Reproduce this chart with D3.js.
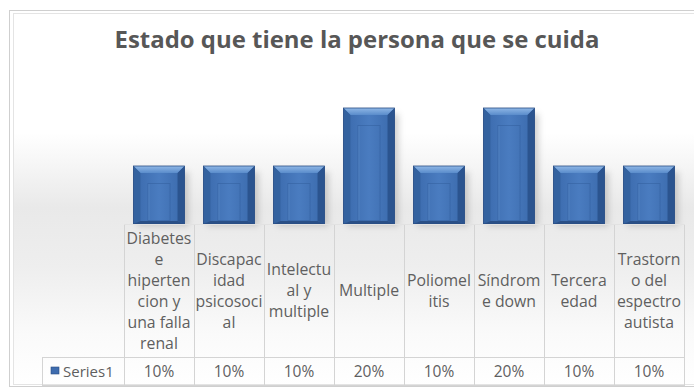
<!DOCTYPE html>
<html>
<head>
<meta charset="utf-8">
<script src="https://cdn.jsdelivr.net/npm/d3@7"></script>
<style>
  body { margin: 0; background: #fff; }
  svg { display: block; }
  text { font-family: "Open Sans", sans-serif; fill: #5f5f5f; }
</style>
</head>
<body>
<div id="chart"></div>
<script>
// ----------------- DATA -----------------
const title = "Estado que tiene la persona que se cuida";
const seriesName = "Series1";
const categories = [
    "Diabetes e hipertencion y una falla renal",
    "Discapacidad psicosocial",
    "Intelectual y multiple",
    "Multiple",
    "Poliomelitis",
    "Síndrome down",
    "Tercera edad",
    "Trastorno del espectro autista"
];
// label lines as they wrap in the table cells
const categoryLines = [
    ["Diabetes", "e", "hiperten", "cion y", "una falla", "renal"],
    ["Discapac", "idad", "psicosoci", "al"],
    ["Intelectu", "al y", "multiple"],
    ["Multiple"],
    ["Poliomel", "itis"],
    ["Síndrom", "e down"],
    ["Tercera", "edad"],
    ["Trastorn", "o del", "espectro", "autista"]
];
const values = [0.10, 0.10, 0.10, 0.20, 0.10, 0.20, 0.10, 0.10];

// ----------------- LAYOUT -----------------
const width = 694, height = 389;
const plotLeft = 124, plotRight = 684;
const floorY = 224, labelBottom = 357, tableBottom = 385;
const legendLeft = 42;

const svg = d3.select("#chart").append("svg")
    .attr("width", width)
    .attr("height", height);

const defs = svg.append("defs");

// background gradient (grey band around the floor)
const bg = defs.append("linearGradient").attr("id", "bg")
    .attr("x1", 0).attr("y1", 0).attr("x2", 0).attr("y2", 1);
[[0, "#ffffff"], [0.32, "#ffffff"], [0.52, "#e9e9e9"], [0.68, "#eeeeee"], [0.86, "#fafafa"], [1, "#ffffff"]]
    .forEach(([o, c]) => bg.append("stop").attr("offset", o).attr("stop-color", c));

// bar face gradient
const face = defs.append("linearGradient").attr("id", "face")
    .attr("x1", 0).attr("y1", 0).attr("x2", 1).attr("y2", 0);
[[0, "#3a69ab"], [0.5, "#4a7cc0"], [1, "#3a69ab"]]
    .forEach(([o, c]) => face.append("stop").attr("offset", o).attr("stop-color", c));

const topBevel = defs.append("linearGradient").attr("id", "topBevel")
    .attr("x1", 0).attr("y1", 0).attr("x2", 0).attr("y2", 1);
[[0, "#8fb7e6"], [1, "#5a8ccb"]]
    .forEach(([o, c]) => topBevel.append("stop").attr("offset", o).attr("stop-color", c));

const blur = defs.append("filter").attr("id", "shadow")
    .attr("x", "-50%").attr("y", "-50%").attr("width", "200%").attr("height", "200%");
blur.append("feGaussianBlur").attr("stdDeviation", 3);

// chart area + double border
svg.append("rect")
    .attr("x", 13).attr("y", 14)
    .attr("width", width).attr("height", 372)
    .attr("fill", "url(#bg)");
svg.append("rect")
    .attr("x", 9.5).attr("y", 10.5)
    .attr("width", width + 10).attr("height", 376)
    .attr("fill", "none").attr("stroke", "#cfcfcf");
svg.append("rect")
    .attr("x", 13.5).attr("y", 13.5)
    .attr("width", width + 10).attr("height", 371)
    .attr("fill", "none").attr("stroke", "#e4e4e4");

// title, fitted to the reference width
const titleText = svg.append("text")
    .attr("x", 357).attr("y", 48)
    .attr("text-anchor", "middle")
    .style("font-weight", "bold")
    .style("font-size", "22px")
    .style("fill", "#575757")
    .text(title);
const tw = titleText.node().getComputedTextLength();
titleText.style("font-size", (22 * 485 / tw).toFixed(2) + "px");

// ----------------- SCALES -----------------
const x = d3.scaleBand()
    .domain(categories)
    .range([plotLeft, plotRight])
    .paddingInner(0.27)
    .paddingOuter(0.135);

const y = d3.scaleLinear()
    .domain([0, 0.2])
    .range([floorY, 108]);

const step = x.step();
const cellLeft = c => x(c) - x.step() * x.paddingInner() / 2;

// ----------------- BARS -----------------
const bars = svg.append("g").attr("class", "bars")
    .selectAll("g")
    .data(categories.map((c, i) => ({ cat: c, value: values[i] })))
    .join("g");

// soft shadow on the floor
bars.append("rect")
    .attr("x", d => x(d.cat) + 4)
    .attr("y", d => y(d.value) + 6)
    .attr("width", x.bandwidth())
    .attr("height", d => floorY - y(d.value) - 4)
    .attr("fill", "#7a7a7a")
    .attr("opacity", 0.35)
    .attr("filter", "url(#shadow)");

const b = 7;
bars.each(function (d) {
    const g = d3.select(this);
    const x0 = x(d.cat), x1 = x0 + x.bandwidth();
    const y0 = y(d.value), y1 = y(0);
    const poly = pts => pts.map(p => p.join(",")).join(" ");

    g.append("rect")
        .attr("x", x0).attr("y", y0)
        .attr("width", x1 - x0).attr("height", y1 - y0)
        .attr("fill", "url(#face)");
    g.append("polygon") // top
        .attr("points", poly([[x0, y0], [x1, y0], [x1 - b, y0 + b], [x0 + b, y0 + b]]))
        .attr("fill", "url(#topBevel)");
    g.append("polygon") // left
        .attr("points", poly([[x0, y0], [x0 + b, y0 + b], [x0 + b, y1 - 3], [x0, y1]]))
        .attr("fill", "#34629f");
    g.append("polygon") // right
        .attr("points", poly([[x1, y0], [x1, y1], [x1 - b, y1 - 3], [x1 - b, y0 + b]]))
        .attr("fill", "#2b548f");
    g.append("polygon") // bottom
        .attr("points", poly([[x0, y1], [x0 + b, y1 - 3], [x1 - b, y1 - 3], [x1, y1]]))
        .attr("fill", "#2a4f86");
    // inner panel: two faint vertical grooves and a top edge
    g.append("rect")
        .attr("x", x0 + 14.5).attr("y", y0 + 17.5)
        .attr("width", x1 - x0 - 29).attr("height", y1 - y0 - 21)
        .attr("fill", "none")
        .attr("stroke", "#2f5c99")
        .attr("stroke-width", 1)
        .attr("opacity", 0.45);
    g.append("line")
        .attr("x1", x0 + 15.5).attr("x2", x0 + 15.5)
        .attr("y1", y0 + 18).attr("y2", y1 - 4)
        .attr("stroke", "#6b9ad2").attr("opacity", 0.4);
    g.append("rect")
        .attr("x", x0).attr("y", y0)
        .attr("width", x1 - x0).attr("height", y1 - y0)
        .attr("fill", "none")
        .attr("stroke", "#2a4e84")
        .attr("stroke-width", 0.8);
});

// ----------------- DATA TABLE -----------------
const grid = svg.append("g").attr("stroke", "#d4d4d4").attr("stroke-width", 1);
categories.forEach((c, i) => {
    grid.append("line")
        .attr("x1", cellLeft(c) + 0.5).attr("x2", cellLeft(c) + 0.5)
        .attr("y1", floorY).attr("y2", tableBottom);
});
grid.append("line")
    .attr("x1", plotRight + 0.5).attr("x2", plotRight + 0.5)
    .attr("y1", floorY).attr("y2", tableBottom);
grid.append("line")
    .attr("x1", legendLeft + 0.5).attr("x2", legendLeft + 0.5)
    .attr("y1", labelBottom).attr("y2", tableBottom);
[labelBottom, tableBottom].forEach(yy => {
    grid.append("line")
        .attr("x1", legendLeft).attr("x2", plotRight + 1)
        .attr("y1", yy + 0.5).attr("y2", yy + 0.5);
});
grid.append("line")
    .attr("x1", plotLeft).attr("x2", plotRight + 1)
    .attr("y1", floorY + 0.5).attr("y2", floorY + 0.5)
    .attr("stroke", "#e2e2e2");

// category labels
const lineH = 21;
const labelMid = (floorY + labelBottom) / 2;
categories.forEach((c, i) => {
    const lines = categoryLines[i];
    const t = svg.append("text")
        .attr("text-anchor", "middle")
        .style("font-size", "15.8px");
    lines.forEach((ln, j) => {
        t.append("tspan")
            .attr("x", cellLeft(c) + step / 2)
            .attr("y", labelMid + (j - (lines.length - 1) / 2) * lineH + 5.5)
            .text(ln);
    });
});

// values row
const fmt = d3.format(".0%");
svg.append("g").selectAll("text")
    .data(categories)
    .join("text")
    .attr("x", c => cellLeft(c) + step / 2)
    .attr("y", (labelBottom + tableBottom) / 2 + 5.5)
    .attr("text-anchor", "middle")
    .style("font-size", "15.5px")
    .text((c, i) => fmt(values[i]));

// legend key + series name
svg.append("rect")
    .attr("x", 51).attr("y", 367)
    .attr("width", 8).attr("height", 7)
    .attr("fill", "#3e6cae")
    .attr("stroke", "#2a4e84")
    .attr("stroke-width", 0.6);
svg.append("text")
    .attr("x", 63).attr("y", (labelBottom + tableBottom) / 2 + 5.5)
    .style("font-size", "15px")
    .text(seriesName);
</script>
</body>
</html>
